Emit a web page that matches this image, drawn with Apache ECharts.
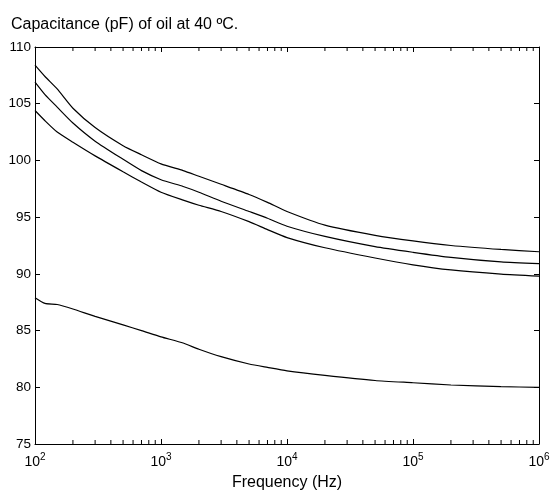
<!DOCTYPE html>
<html>
<head>
<meta charset="utf-8">
<script src="https://cdn.jsdelivr.net/npm/echarts@6/dist/echarts.min.js"></script>
<style>
  html, body { margin: 0; padding: 0; background: #fff; }
  #main { width: 550px; height: 491px; }
</style>
</head>
<body>
<div id="main"></div>
<script>
// frequency points (Hz) and capacitance curves (pF)
const freq = [100, 120, 150, 200, 300, 500, 700, 1000, 1500, 2000, 3000, 5000, 7000, 1e4, 2e4, 5e4, 1e5, 2e5, 5e5, 1e6];
const capA = [108.4, 107.4, 106.3, 104.6, 102.9, 101.3, 100.5, 99.7, 99.1, 98.6, 97.9, 97.0, 96.3, 95.5, 94.3, 93.4, 92.9, 92.5, 92.15, 91.95];
const capB = [106.9, 105.8, 104.7, 103.3, 101.7, 100.1, 99.1, 98.3, 97.7, 97.2, 96.4, 95.5, 94.9, 94.2, 93.3, 92.4, 91.9, 91.45, 91.05, 90.9];
const capC = [104.4, 103.5, 102.5, 101.6, 100.4, 99.0, 98.1, 97.2, 96.5, 96.05, 95.5, 94.6, 93.9, 93.2, 92.3, 91.4, 90.8, 90.35, 89.98, 89.8];
const capD = [87.9, 87.4, 87.3, 86.9, 86.25, 85.5, 85.0, 84.45, 83.9, 83.35, 82.7, 82.05, 81.75, 81.45, 81.05, 80.6, 80.4, 80.2, 80.05, 80.0];

// minor ticks on the log axis (2..9 of each decade)
const minorTicks = [];
[100, 1000, 10000, 100000].forEach(function (d) {
  for (let k = 2; k <= 9; k++) minorTicks.push(d * k);
});

const yMin = 75, yMax = 110;
const font = 'Liberation Sans, Arial, sans-serif';

function pairs(vals) {
  return freq.map(function (f, i) { return [f, vals[i]]; });
}

function lineSeries(vals) {
  return {
    type: 'line',
    data: pairs(vals),
    symbol: 'none',
    smooth: 0.2,
    lineStyle: { color: '#000', width: 1.2 },
    silent: true,
    animation: false
  };
}

const chart = echarts.init(document.getElementById('main'), null, { renderer: 'canvas' });

chart.setOption({
  animation: false,
  backgroundColor: '#fff',
  title: {
    text: 'Capacitance (pF) of oil at 40 ºC.',
    left: 6,
    top: 12,
    textStyle: { fontFamily: font, fontSize: 16, fontWeight: 'normal', color: '#000' }
  },
  grid: { left: 35, right: 11, top: 47, bottom: 47, containLabel: false, outerBoundsMode: 'none' },
  xAxis: [{
    type: 'log',
    logBase: 10,
    min: 100,
    max: 1e6,
    name: 'Frequency (Hz)',
    nameLocation: 'middle',
    nameGap: 30,
    nameTextStyle: { fontFamily: font, fontSize: 16, color: '#000' },
    axisLine: { lineStyle: { color: '#000', width: 1 } },
    axisTick: { inside: true, length: 5, lineStyle: { color: '#000' } },
    splitLine: { show: false },
    axisLabel: {
      margin: 8,
      color: '#000',
      formatter: function (v) {
        return '{b|10}{s|' + Math.round(Math.log10(v)) + '}';
      },
      rich: {
        b: { fontFamily: font, fontSize: 14, color: '#000' },
        s: { fontFamily: font, fontSize: 10, color: '#000', padding: [0, 0, 11, 0] }
      }
    }
  }, {
    type: 'log',
    logBase: 10,
    min: 100,
    max: 1e6,
    position: 'top',
    axisLine: { lineStyle: { color: '#000', width: 1 } },
    axisTick: { inside: true, length: 5, lineStyle: { color: '#000' } },
    axisLabel: { show: false },
    splitLine: { show: false }
  }],
  yAxis: [{
    type: 'value',
    min: yMin,
    max: yMax,
    interval: 5,
    axisLine: { show: true, lineStyle: { color: '#000', width: 1 } },
    axisTick: { show: true, inside: true, length: 5, lineStyle: { color: '#000' } },
    splitLine: { show: false },
    axisLabel: { margin: 4, color: '#000', fontFamily: font, fontSize: 13.5 }
  }, {
    type: 'value',
    min: yMin,
    max: yMax,
    interval: 5,
    position: 'right',
    axisLine: { show: true, lineStyle: { color: '#000', width: 1 } },
    axisTick: { show: true, inside: true, length: 5, lineStyle: { color: '#000' } },
    axisLabel: { show: false },
    splitLine: { show: false }
  }],
  series: [
    lineSeries(capA),
    lineSeries(capB),
    lineSeries(capC),
    lineSeries(capD),
    {
      // minor ticks drawn through the log scale, bottom and top
      type: 'custom',
      silent: true,
      data: minorTicks.map(function (v) { return [v, yMin]; }),
      encode: { x: 0, y: 1 },
      renderItem: function (params, api) {
        const b = api.coord([api.value(0), yMin]);
        const t = api.coord([api.value(0), yMax]);
        const st = { stroke: '#000', lineWidth: 1 };
        return {
          type: 'group',
          children: [
            { type: 'line', shape: { x1: b[0], y1: b[1], x2: b[0], y2: b[1] - 4 }, style: st },
            { type: 'line', shape: { x1: t[0], y1: t[1], x2: t[0], y2: t[1] + 4 }, style: st }
          ]
        };
      }
    }
  ]
});
</script>
</body>
</html>
